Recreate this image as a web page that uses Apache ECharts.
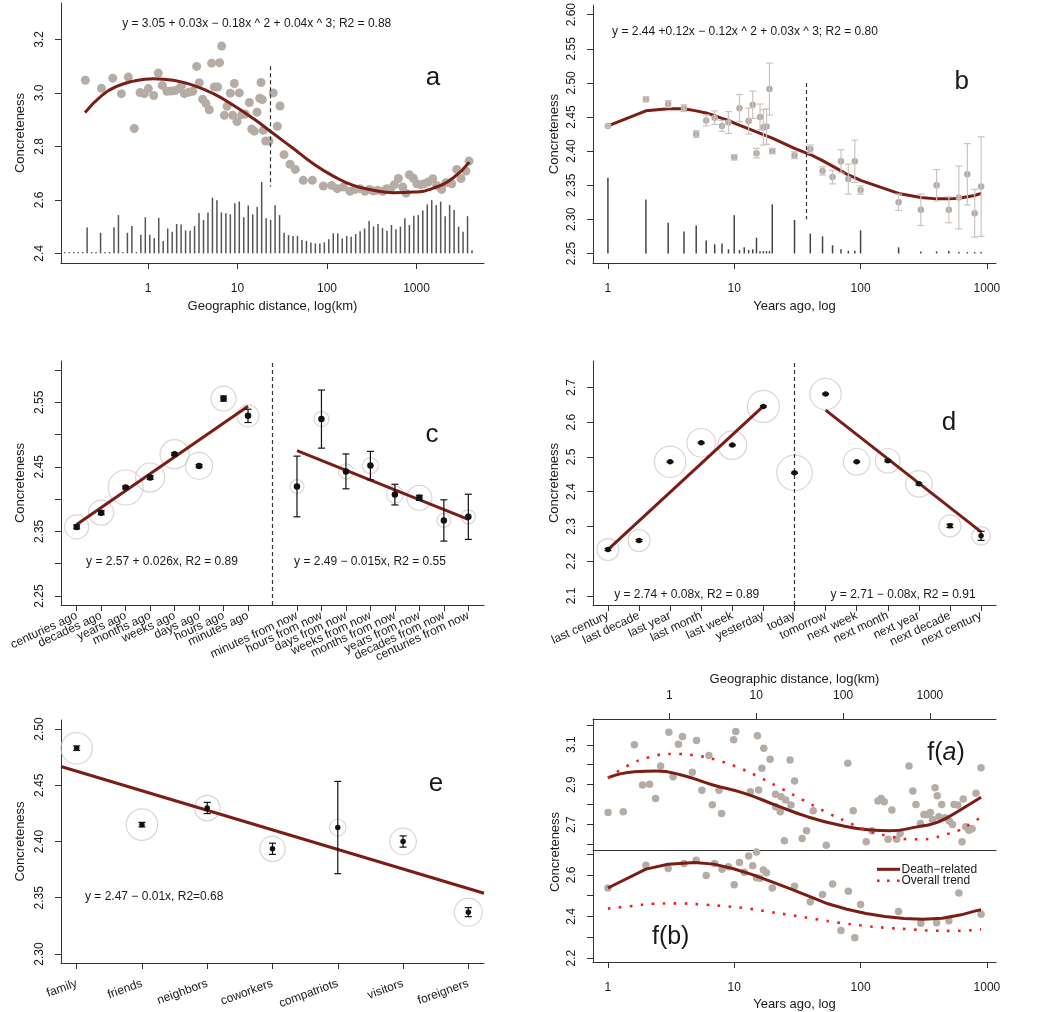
<!DOCTYPE html>
<html><head><meta charset="utf-8">
<script src="https://cdn.jsdelivr.net/npm/echarts@6/dist/echarts.min.js"></script>
<style>html,body{margin:0;padding:0;background:#fff}#c{width:1050px;height:1012px}</style>
</head><body><div id="c"></div>
<script>
// ================= DATA =================
// ---- panel a: geographic distance (log10 km) ----
const aBinLogKm = [-0.93,-0.88,-0.83,-0.78,-0.73,-0.68,-0.63,-0.58,-0.53,-0.48,-0.43,-0.38,-0.33,-0.28,-0.23,-0.18,-0.13,-0.08,-0.03,0.02,0.07,0.12,0.17,0.22,0.27,0.32,0.37,0.42,0.47,0.52,0.57,0.62,0.67,0.72,0.77,0.82,0.87,0.92,0.97,1.02,1.07,1.12,1.17,1.22,1.27,1.32,1.37,1.42,1.47,1.52,1.57,1.62,1.67,1.72,1.77,1.82,1.87,1.92,1.97,2.02,2.07,2.12,2.17,2.22,2.27,2.32,2.37,2.42,2.47,2.52,2.57,2.62,2.67,2.72,2.77,2.82,2.87,2.92,2.97,3.02,3.07,3.12,3.17,3.22,3.27,3.32,3.37,3.42,3.47,3.52,3.57,3.62];
const aBinHeight = [0,0,0,0,0,0.097,0,0,0.077,0,0,0.098,0.143,0,0.077,0.102,0,0.07,0.135,0.07,0.057,0.133,0.046,0.093,0.081,0.11,0.108,0.086,0.085,0.102,0.151,0.125,0.153,0.208,0.199,0.153,0.15,0.146,0.187,0.194,0.135,0.179,0.146,0.173,0.267,0.131,0.125,0.18,0.143,0.077,0.068,0.065,0.065,0.05,0.047,0.041,0.037,0.037,0.041,0.053,0.075,0.075,0.056,0.065,0.062,0.072,0.083,0.093,0.121,0.101,0.11,0.095,0.085,0.106,0.09,0.1,0.131,0.106,0.141,0.143,0.16,0.183,0.199,0.181,0.193,0.139,0.181,0.162,0.1,0.081,0.139,0.012];
const aBinBase = 2.4;
const aPoints = [[-0.70,3.047],[-0.52,3.017],[-0.394,3.055],[-0.298,2.997],[-0.22,3.059],[-0.153,2.867],[-0.089,3.001],[-0.041,2.997],[0.004,3.016],[0.063,2.99],[0.115,3.074],[0.16,3.028],[0.212,3.006],[0.257,3.007],[0.305,3.009],[0.35,3.016],[0.376,3.028],[0.406,2.997],[0.455,3.002],[0.5,3.006],[0.544,3.099],[0.573,3.038],[0.611,2.976],[0.648,2.96],[0.685,2.937],[0.711,3.111],[0.741,3.022],[0.778,3.022],[0.8,3.113],[0.823,3.175],[0.853,2.916],[0.883,2.95],[0.92,2.999],[0.946,2.916],[0.965,3.035],[0.994,2.893],[1.02,3.0],[1.047,2.918],[1.084,2.921],[1.132,2.964],[1.159,2.865],[1.188,2.857],[1.218,2.928],[1.248,2.98],[1.263,3.039],[1.277,2.975],[1.288,2.86],[1.315,2.82],[1.352,2.82],[1.4,3.0],[1.475,2.951],[1.445,2.875],[1.52,2.769],[1.587,2.733],[1.646,2.714],[1.735,2.673],[1.836,2.673],[1.959,2.652],[2.052,2.654],[2.115,2.642],[2.182,2.648],[2.257,2.632],[2.313,2.639],[2.369,2.642],[2.425,2.632],[2.473,2.639],[2.518,2.633],[2.566,2.636],[2.622,2.632],[2.667,2.642],[2.712,2.642],[2.752,2.657],[2.797,2.68],[2.846,2.648],[2.883,2.625],[2.92,2.694],[2.965,2.681],[3.003,2.66],[3.047,2.657],[3.087,2.66],[3.132,2.667],[3.181,2.679],[3.226,2.654],[3.281,2.639],[3.33,2.664],[3.393,2.66],[3.449,2.714],[3.497,2.68],[3.553,2.708],[3.587,2.745]];
const aCurve = [[-0.704,2.926],[-0.536,2.984],[-0.35,3.024],[-0.164,3.044],[0.06,3.053],[0.283,3.047],[0.506,3.028],[0.73,2.997],[0.953,2.954],[1.177,2.904],[1.4,2.848],[1.624,2.792],[1.847,2.735],[2.07,2.689],[2.294,2.654],[2.518,2.636],[2.741,2.627],[2.964,2.629],[3.188,2.644],[3.411,2.683],[3.59,2.741]];
const aDashLogKm = 1.371, aDashTop = 3.10, aDashBottom = 2.65;
const aXTicks = [1,10,100,1000];
const aYTicks = [2.4,2.6,2.8,3.0,3.2];

// ---- panel b: years ago ----
const bYears = [1,2,3,4,5,6,7,8,9,10,11,13,14,15,16,17,18,19,20,30,40,50,60,70,80,90,100,200,300,400,500,600,700,800,900];
const bMean  = [2.437,2.476,2.469,2.463,2.425,2.445,2.449,2.437,2.442,2.391,2.463,2.444,2.468,2.397,2.45,2.435,2.436,2.491,2.40,2.394,2.403,2.371,2.362,2.385,2.359,2.385,2.343,2.325,2.314,2.35,2.314,2.332,2.366,2.309,2.348];
const bErr   = [0.002,0.004,0.005,0.005,0.005,0.008,0.01,0.008,0.016,0.004,0.02,0.019,0.02,0.007,0.019,0.026,0.026,0.038,0.004,0.005,0.006,0.006,0.01,0.017,0.022,0.031,0.006,0.012,0.023,0.023,0.019,0.046,0.045,0.035,0.073];
const bBarYears  = [1,2,3,4,5,6,7,8,9,10,11,12,13,14,15,16,17,18,19,20,30,40,50,60,70,80,90,100,200,300,400,500,600,700,800,900];
const bBarHeight = [0.111,0.079,0.045,0.032,0.041,0.019,0.0135,0.0145,0.006,0.056,0.005,0.009,0.005,0.006,0.023,0.0034,0.0034,0.0034,0.0034,0.072,0.049,0.029,0.025,0.012,0.006,0.004,0.004,0.034,0.009,0.003,0.003,0.0035,0.002,0.002,0.002,0.002];
const bBarBase = 2.25;
const bCurveYears = [1,2,3,4,5,6,7,8,9,10,20,30,40,50,60,70,80,90,100,200,300,400,500,600,700,800,900];
const bCurve      = [2.437,2.459,2.462,2.462,2.459,2.456,2.452,2.448,2.445,2.441,2.419,2.404,2.395,2.386,2.378,2.371,2.365,2.361,2.357,2.338,2.332,2.33,2.33,2.331,2.333,2.335,2.338];
const bDashYears = 37, bDashTop = 2.50, bDashBottom = 2.30;
const bXTicks = [1,10,100,1000];
const bYTicks = [2.25,2.30,2.35,2.40,2.45,2.50,2.55,2.60];

// ---- panel c ----
const cLabels = ["centuries ago","decades ago","years ago","months ago","weeks ago","days ago","hours ago","minutes ago","minutes from now","hours from now","days from now","weeks from now","months from now","years from now","decades from now","centuries from now"];
const cPos  = [1,2,3,4,5,6,7,8,10,11,12,13,14,15,16,17];
const cMean = [2.357,2.379,2.418,2.4335,2.4696,2.4515,2.5558,2.529,2.4196,2.524,2.443,2.452,2.407,2.402,2.367,2.3726];
const cErr  = [0.003,0.003,0.002,0.003,0.002,0.002,0.004,0.0103,0.047,0.045,0.027,0.022,0.016,0.004,0.032,0.035];
const cWeight = [12,12.5,17.5,14.5,14.5,13.5,12.5,11,7,7.5,7.5,8,8.5,12.5,7,7];
const cFitPast = [[1,2.3607],[8,2.5439]];
const cFitFuture = [[10,2.4753],[17,2.3685]];
const cDivider = 9;
const cYTicks = [2.25,2.30,2.35,2.40,2.45,2.50,2.55,2.60];
const cYLabels = [2.25,2.35,2.45,2.55];

// ---- panel d ----
const dLabels = ["last century","last decade","last year","last month","last week","yesterday","today","tomorrow","next week","next month","next year","next decade","next century"];
const dPos  = [1,2,3,4,5,6,7,8,9,10,11,12,13];
const dMean = [2.2336,2.2595,2.486,2.5407,2.534,2.6453,2.4543,2.6808,2.486,2.4889,2.4226,2.3017,2.273];
const dErr  = [0.003,0.003,0.002,0.002,0.002,0.002,0.002,0.002,0.002,0.003,0.003,0.005,0.013];
const dWeight = [11,11,15.7,14.3,14.3,16,17.7,15.7,13.3,12.3,13.3,11,9.3];
const dFitPast = [[1,2.2336],[6,2.6463]];
const dFitFuture = [[8,2.6347],[13,2.2845]];
const dDivider = 7;
const dYTicks = [2.1,2.2,2.3,2.4,2.5,2.6,2.7];

// ---- panel e ----
const eLabels = ["family","friends","neighbors","coworkers","compatriots","visitors","foreigners"];
const ePos  = [1,2,3,4,5,6,7];
const eMean = [2.4829,2.4150,2.4298,2.3935,2.4124,2.4,2.3372];
const eErr  = [0.002,0.002,0.005,0.005,0.041,0.005,0.004];
const eWeight = [15.7,15.7,12.7,12.7,8.3,13.3,14];
const eFit = [[0.76,2.4667],[7.24,2.354]];
const eYTicks = [2.30,2.35,2.40,2.45,2.50];

// ---- panel f(a): death-related, geographic distance (log10 km) ----
const faPoints = [[-0.704,2.761],[-0.529,2.764],[-0.401,3.1],[-0.307,2.899],[-0.226,2.902],[-0.157,2.831],[-0.099,2.994],[-0.004,3.163],[0.044,2.94],[0.106,3.103],[0.153,3.141],[0.266,2.962],[0.314,3.121],[0.376,2.872],[0.456,3.046],[0.496,2.8],[0.573,2.872],[0.602,2.756],[0.741,3.125],[0.766,3.166],[0.934,2.865],[1.015,3.145],[1.029,2.873],[1.066,2.982],[1.088,3.083],[1.161,3.027],[1.223,2.852],[1.226,2.79],[1.277,2.764],[1.288,2.84],[1.339,2.823],[1.325,2.619],[1.39,3.024],[1.401,2.798],[1.442,2.919],[1.529,2.63],[1.58,2.669],[1.657,2.77],[1.807,2.597],[2.055,3.007],[2.117,2.77],[2.266,2.614],[2.332,2.669],[2.401,2.818],[2.438,2.831],[2.474,2.815],[2.518,2.627],[2.562,2.773],[2.617,2.627],[2.657,2.656],[2.759,2.994],[2.803,2.868],[2.839,2.801],[2.891,2.706],[2.931,2.751],[2.967,2.751],[3.004,2.761],[3.029,2.726],[3.058,2.885],[3.084,2.845],[3.102,2.739],[3.135,2.801],[3.175,2.734],[3.222,2.718],[3.259,2.701],[3.277,2.801],[3.321,2.798],[3.369,2.614],[3.383,2.828],[3.412,2.689],[3.449,2.672],[3.485,2.68],[3.53,2.857],[3.588,2.985]];
const faDeath = [[-0.704,2.935],[-0.4,2.965],[-0.15,2.968],[0.128,2.95],[0.493,2.9],[0.858,2.858],[1.223,2.798],[1.588,2.74],[1.953,2.698],[2.318,2.673],[2.537,2.669],[2.865,2.69],[3.04,2.705],[3.22,2.74],[3.485,2.81],[3.588,2.837]];
const faOverall = [[-0.704,2.932],[-0.474,2.996],[-0.226,3.038],[0.036,3.054],[0.303,3.046],[0.566,3.021],[0.818,2.982],[1.062,2.932],[1.303,2.878],[1.54,2.823],[1.781,2.768],[2.026,2.718],[2.27,2.672],[2.529,2.642],[2.792,2.627],[2.931,2.627],[3.066,2.636],[3.193,2.652],[3.321,2.669],[3.454,2.70],[3.588,2.738]];
const faXTicks = [1,10,100,1000];
const faYTicks = [2.6,2.7,2.8,2.9,3.0,3.1,3.2];
const faYLabels = [2.7,2.9,3.1];

// ---- panel f(b): death-related, years ago ----
const fbYears = [1,2,3,4,5,6,7,8,9,10,11,12,13,14,15,15,16,17,18,20,30,40,50,60,70,80,90,100,200,300,400,500,600,900];
const fbMean  = [2.537,2.647,2.631,2.655,2.671,2.597,2.655,2.627,2.639,2.553,2.66,2.613,2.691,2.644,2.71,2.587,2.584,2.624,2.611,2.537,2.545,2.471,2.506,2.556,2.332,2.521,2.298,2.458,2.424,2.367,2.37,2.38,2.513,2.411];
const fbDeathLogYears = [0,0.301,0.477,0.686,0.837,0.987,1.138,1.289,1.44,1.59,1.741,1.892,2.043,2.193,2.344,2.495,2.646,2.796,2.91,2.954];
const fbDeath         = [2.537,2.628,2.651,2.66,2.652,2.631,2.603,2.569,2.534,2.498,2.461,2.435,2.414,2.4,2.39,2.387,2.392,2.408,2.427,2.432];
const fbOverallLogYears = [0,0.183,0.364,0.548,0.731,0.917,1.1,1.281,1.465,1.646,1.829,2.013,2.193,2.377,2.56,2.746,2.954];
const fbOverall         = [2.438,2.45,2.461,2.463,2.458,2.45,2.439,2.422,2.405,2.387,2.37,2.356,2.346,2.339,2.332,2.331,2.338];
const fbXTicks = [1,10,100,1000];
const fbYTicks = [2.2,2.3,2.4,2.5,2.6,2.7];
const fbYLabels = [2.2,2.4,2.6];
const fLegend = ['Death\u2212related','Overall trend'];

// ================= BUILD =================
const L = Math.log10;
const FONT = '"Liberation Sans", Arial, Helvetica, sans-serif';
const AX = '#333';
const TXT = '#1a1a1a';
const PT = '#b5aca6';
const DARKRED = '#7a1d15';
const RED = '#f0201a';
const CIRC = '#d2cccb';
const DOTTED = [2.6, 8.4];

function logLabel(v){ return String(Math.round(Math.pow(10, v))); }

function xAxisOf(gi, min, max, ticks, fmt, extra, labelExtra){
  return Object.assign({
    type:'value', gridIndex:gi, min:min, max:max,
    axisLine:{show:true, onZero:false, lineStyle:{color:AX, width:1}},
    axisTick:{show:true, length:6, customValues:ticks, lineStyle:{color:AX, width:1}},
    axisLabel:Object.assign({show:true, customValues:ticks, formatter:fmt, color:TXT, fontSize:12, fontFamily:FONT, margin:20,
      hideOverlap:false}, labelExtra||{}),
    splitLine:{show:false},
    nameLocation:'middle', nameGap:37,
    nameTextStyle:{color:TXT, fontSize:13, fontFamily:FONT}
  }, extra||{});
}
function yAxisOf(gi, min, max, ticks, labels, dec, extra){
  return Object.assign({
    type:'value', gridIndex:gi, min:min, max:max,
    axisLine:{show:true, onZero:false, lineStyle:{color:AX, width:1}},
    axisTick:{show:true, length:6, customValues:ticks, lineStyle:{color:AX, width:1}},
    axisLabel:{show:true, customValues:labels, formatter:v=>Number(v).toFixed(dec), rotate:90, color:TXT, fontSize:12, fontFamily:FONT, margin:15,
      showMinLabel:true, showMaxLabel:true},
    splitLine:{show:false},
    nameLocation:'middle', nameGap:33, nameRotate:90,
    nameTextStyle:{color:TXT, fontSize:13, fontFamily:FONT}
  }, extra||{});
}
// category-like label axis: empty placeholder labels at both ends keep the
// automatic first/last-label overlap check from hiding real labels
function catLabels(min, max, pos, labels, rotate, margin){
  const map = {}; pos.forEach((p,i)=>{ map[p] = labels[i]; });
  return {customValues:[min].concat(pos, [max]), formatter:v => (map[Math.round(v*1000)/1000] !== undefined && pos.indexOf(v) >= 0) ? map[v] : '',
    rotate:rotate, margin:margin};
}

function barRender(base, color){
  return function(params, api){
    const x = api.value(0), h = api.value(1);
    const p0 = api.coord([x, base]), p1 = api.coord([x, base + h]);
    if (h <= 0) return {type:'rect', shape:{x:p0[0]-0.7, y:p0[1]-1.4, width:1.4, height:1.4}, style:{fill:color}};
    return {type:'line', shape:{x1:p0[0], y1:p0[1], x2:p1[0], y2:p1[1]}, style:{stroke:color, lineWidth:1.5}};
  };
}
function errRender(color, cap){
  return function(params, api){
    const x = api.value(0), y = api.value(1), e = api.value(2);
    const lo = api.coord([x, y - e]), hi = api.coord([x, y + e]);
    const s = {stroke:color, lineWidth:1.2};
    return {type:'group', children:[
      {type:'line', shape:{x1:lo[0], y1:lo[1], x2:hi[0], y2:hi[1]}, style:s},
      {type:'line', shape:{x1:lo[0]-cap, y1:lo[1], x2:lo[0]+cap, y2:lo[1]}, style:s},
      {type:'line', shape:{x1:hi[0]-cap, y1:hi[1], x2:hi[0]+cap, y2:hi[1]}, style:s}
    ]};
  };
}
const zip2 = (a,b)=>a.map((v,i)=>[v,b[i]]);
const zip3 = (a,b,c)=>a.map((v,i)=>[v,b[i],c[i]]);

function circles(xi, yi, pos, mean, w){
  return {type:'scatter', xAxisIndex:xi, yAxisIndex:yi, data:zip3(pos, mean, w), symbol:'circle',
    symbolSize:d=>d[2]*2, itemStyle:{color:'rgba(0,0,0,0)', borderColor:CIRC, borderWidth:1.2}, silent:true, z:1};
}
function fitLine(xi, yi, data, extra){
  return Object.assign({type:'line', xAxisIndex:xi, yAxisIndex:yi, data:data, symbol:'none', showSymbol:false,
    lineStyle:{color:DARKRED, width:3}, itemStyle:{color:DARKRED}, silent:true, z:3}, extra||{});
}
function errSeries(xi, yi, pos, mean, err, color, cap){
  return {type:'custom', xAxisIndex:xi, yAxisIndex:yi, data:zip3(pos, mean, err), renderItem:errRender(color, cap),
    encode:{x:0, y:1}, silent:true, z:4};
}
function dots(xi, yi, data, color, size, z){
  return {type:'scatter', xAxisIndex:xi, yAxisIndex:yi, data:data, symbol:'circle', symbolSize:size,
    itemStyle:{color:color, opacity:1}, silent:true, z:z||5};
}
const dashStyle = {type:[4,3], color:'#333', width:1.2};
const txt = (x, y, s, size, align) => ({type:'text', x:x, y:y, silent:true,
  style:{text:s, fill:TXT, font:size+'px '+FONT, textAlign:align||'center', textVerticalAlign:'middle'}});

const option = {
  animation:false,
  backgroundColor:'#fff',
  textStyle:{fontFamily:FONT},
  grid:[
    {left:61, top:3, width:423, height:260},
    {left:593, top:3, width:403, height:260},
    {left:61, top:361, width:423, height:244},
    {left:593, top:361, width:403, height:244},
    {left:61, top:720, width:423, height:243},
    {left:593, top:719, width:403, height:131},
    {left:593, top:850, width:403, height:113}
  ],
  xAxis:[
    xAxisOf(0, -0.972, 3.754, aXTicks.map(L), logLabel, {name:'Geographic distance, log(km)'}),
    xAxisOf(1, -0.118, 3.072, bXTicks.map(L), logLabel, {name:'Years ago, log'}),
    xAxisOf(2, 0.36, 17.64, cPos, null, {}, catLabels(0.36, 17.64, cPos, cLabels, 25, 10)),
    xAxisOf(3, 0.52, 13.48, dPos, null, {}, catLabels(0.52, 13.48, dPos, dLabels, 25, 10)),
    xAxisOf(4, 0.76, 7.24, ePos, null, {}, catLabels(0.76, 7.24, ePos, eLabels, 20, 20)),
    xAxisOf(5, -0.877, 3.76, faXTicks.map(L), logLabel, {position:'top', name:'Geographic distance, log(km)', nameGap:33}, {margin:17}),
    {type:'value', gridIndex:5, min:-0.877, max:3.76, position:'bottom',
      axisLine:{show:true, onZero:false, lineStyle:{color:AX, width:1}}, axisTick:{show:false}, axisLabel:{show:false}, splitLine:{show:false}},
    xAxisOf(6, -0.118, 3.072, fbXTicks.map(L), logLabel, {name:'Years ago, log', nameGap:36})
  ],
  yAxis:[
    yAxisOf(0, 2.364, 3.336, aYTicks, aYTicks, 1, {name:'Concreteness', nameGap:34}),
    yAxisOf(1, 2.236, 2.614, bYTicks, bYTicks, 2, {name:'Concreteness', nameGap:32}),
    yAxisOf(2, 2.236, 2.614, cYTicks, cYLabels, 2, {name:'Concreteness', nameGap:34}),
    yAxisOf(3, 2.074, 2.776, dYTicks, dYTicks, 1, {name:'Concreteness', nameGap:32}),
    yAxisOf(4, 2.292, 2.508, eYTicks, eYTicks, 2, {name:'Concreteness', nameGap:34}),
    yAxisOf(5, 2.573, 3.229, faYTicks, faYLabels, 1),
    yAxisOf(6, 2.181, 2.72, fbYTicks, fbYLabels, 1)
  ],
  series:[
    // ---- a ----
    {type:'custom', xAxisIndex:0, yAxisIndex:0, data:zip2(aBinLogKm, aBinHeight), renderItem:barRender(aBinBase, '#555'), encode:{x:0,y:1}, silent:true, z:1},
    dots(0, 0, aPoints, PT, 9, 2),
    fitLine(0, 0, aCurve, {smooth:true, markLine:{silent:true, symbol:'none', label:{show:false}, lineStyle:dashStyle,
      data:[[{coord:[aDashLogKm, aDashTop]}, {coord:[aDashLogKm, aDashBottom]}]]}}),
    // ---- b ----
    {type:'custom', xAxisIndex:1, yAxisIndex:1, data:zip2(bBarYears.map(L), bBarHeight), renderItem:barRender(bBarBase, '#444'), encode:{x:0,y:1}, silent:true, z:1},
    errSeries(1, 1, bYears.map(L), bMean, bErr, '#cbc4c0', 3.5),
    dots(1, 1, zip2(bYears.map(L), bMean), PT, 6.5, 3),
    fitLine(1, 1, zip2(bCurveYears.map(L), bCurve), {markLine:{silent:true, symbol:'none', label:{show:false}, lineStyle:dashStyle,
      data:[[{coord:[L(bDashYears), bDashTop]}, {coord:[L(bDashYears), bDashBottom]}]]}}),
    // ---- c ----
    circles(2, 2, cPos, cMean, cWeight),
    fitLine(2, 2, cFitPast, {markLine:{silent:true, symbol:'none', label:{show:false}, lineStyle:dashStyle, data:[{xAxis:cDivider}]}}),
    fitLine(2, 2, cFitFuture),
    errSeries(2, 2, cPos, cMean, cErr, '#111', 3.5),
    dots(2, 2, zip2(cPos, cMean), '#111', 6.5),
    // ---- d ----
    circles(3, 3, dPos, dMean, dWeight),
    fitLine(3, 3, dFitPast, {markLine:{silent:true, symbol:'none', label:{show:false}, lineStyle:dashStyle, data:[{xAxis:dDivider}]}}),
    fitLine(3, 3, dFitFuture),
    errSeries(3, 3, dPos, dMean, dErr, '#111', 3.5),
    dots(3, 3, zip2(dPos, dMean), '#111', 5.5),
    // ---- e ----
    circles(4, 4, ePos, eMean, eWeight),
    fitLine(4, 4, eFit),
    errSeries(4, 4, ePos, eMean, eErr, '#111', 3.5),
    dots(4, 4, zip2(ePos, eMean), '#111', 5.5),
    // ---- f(a) ----
    dots(5, 5, faPoints, PT, 7.5, 2),
    fitLine(5, 5, faDeath, {smooth:true}),
    fitLine(5, 5, faOverall, {smooth:true, lineStyle:{color:RED, width:2.6, type:DOTTED, cap:'butt'}, z:4}),
    // ---- f(b) ----
    dots(7, 6, zip2(fbYears.map(L), fbMean), PT, 7.5, 2),
    fitLine(7, 6, zip2(fbDeathLogYears, fbDeath), {name:fLegend[0]}),
    fitLine(7, 6, zip2(fbOverallLogYears, fbOverall), {name:fLegend[1], smooth:true, lineStyle:{color:RED, width:2.6, type:DOTTED, cap:'butt'}, z:4})
  ],
  graphic:[
    txt(256.7, 24, 'y = 3.05 + 0.03x \u2212 0.18x ^ 2 + 0.04x ^ 3; R2 = 0.88', 12),
    txt(433, 78, 'a', 26),
    txt(745, 31.7, 'y = 2.44 +0.12x \u2212 0.12x ^ 2 + 0.03x ^ 3; R2 = 0.80', 12),
    txt(961.7, 81.7, 'b', 26),
    txt(162, 562, 'y = 2.57 + 0.026x, R2 = 0.89', 12),
    txt(370, 562, 'y = 2.49 \u2212 0.015x, R2 = 0.55', 12),
    txt(432, 435, 'c', 26),
    txt(686.7, 595, 'y = 2.74 + 0.08x, R2 = 0.89', 12),
    txt(903, 595, 'y = 2.71 \u2212 0.08x, R2 = 0.91', 12),
    txt(949, 423, 'd', 26),
    txt(85, 897, 'y = 2.47 \u2212 0.01x, R2=0.68', 12, 'left'),
    txt(436, 784, 'e', 26),
    {type:'text', x:946, y:753, silent:true, style:{text:'{n|f(}{i|a}{n|)}', rich:{n:{fontSize:25, fontFamily:FONT, fill:TXT}, i:{fontSize:25, fontFamily:FONT, fontStyle:'italic', fill:TXT}}, textAlign:'center', textVerticalAlign:'middle'}},
    txt(670.7, 936.7, 'f(b)', 25),
    {type:'text', x:555, y:852, rotation:Math.PI/2, silent:true, style:{text:'Concreteness', fill:TXT, font:'13px '+FONT, textAlign:'center', textVerticalAlign:'middle'}},
    // legend of f(b)
    {type:'line', silent:true, shape:{x1:877, y1:869.3, x2:900, y2:869.3}, style:{stroke:DARKRED, lineWidth:3}},
    {type:'line', silent:true, shape:{x1:877, y1:880.7, x2:900, y2:880.7}, style:{stroke:RED, lineWidth:2.6, lineDash:[2.6,7.4]}},
    txt(901.5, 869.3, fLegend[0], 12, 'left'),
    txt(901.5, 880.7, fLegend[1], 12, 'left')
  ]
};
const chart = echarts.init(document.getElementById('c'), null, {renderer:'canvas'});
chart.setOption(option);
</script>
</body></html>
